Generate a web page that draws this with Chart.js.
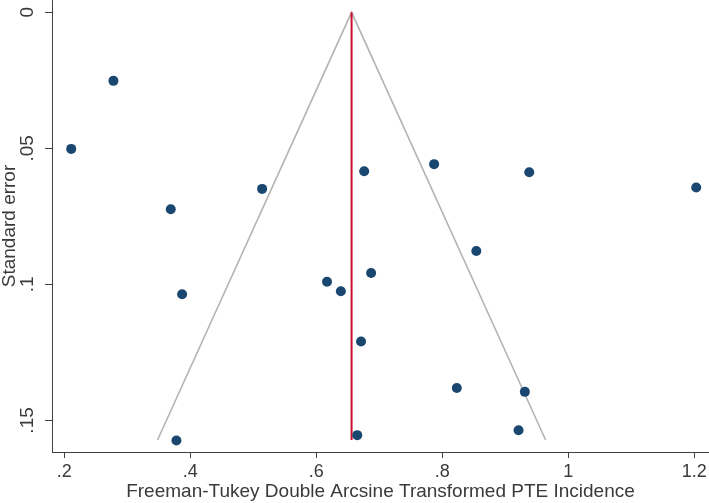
<!DOCTYPE html>
<html>
<head>
<meta charset="utf-8">
<script src="https://cdn.jsdelivr.net/npm/chart.js@4/dist/chart.umd.min.js"></script>
<style>
  html, body { margin: 0; padding: 0; background: #fff; }
  #wrap { width: 709px; height: 503px; }
</style>
</head>
<body>
<div id="wrap"><canvas id="c" width="709" height="503"></canvas></div>
<script>
// Study estimates (Freeman-Tukey transformed incidence) and standard errors
const effectValues = [0.278, 0.211, 0.369, 0.514, 0.676, 0.787, 0.938, 1.203, 0.854, 0.687, 0.617, 0.639, 0.387, 0.671, 0.823, 0.931, 0.921, 0.665, 0.378];
const seValues     = [0.0252, 0.0502, 0.0724, 0.0649, 0.0584, 0.0558, 0.0588, 0.0644, 0.0877, 0.0958, 0.0990, 0.1025, 0.1036, 0.1210, 0.1381, 0.1395, 0.1536, 0.1554, 0.1574];

// Pseudo 95% confidence funnel and pooled estimate line
const funnelX = [0.348, 0.656, 0.964];
const funnelY = [0.1572, 0, 0.1572];
const pooledX = [0.656, 0.656];
const pooledY = [0, 0.1572];

// Axis ticks
const xTickValues = [0.2, 0.4, 0.6, 0.8, 1.0, 1.2];
const xTickLabels = ['.2', '.4', '.6', '.8', '1', '1.2'];
const yTickValues = [0, 0.05, 0.1, 0.15];
const yTickLabels = ['0', '.05', '.1', '.15'];

const FONT = "'Liberation Sans', Arial, Helvetica, sans-serif";
const TEXT = '#3a3a3a';
const AXIS = '#404040';

const pts = effectValues.map((x, i) => ({ x: x, y: seValues[i] }));
const funnel = funnelX.map((x, i) => ({ x: x, y: funnelY[i] }));
const pooled = pooledX.map((x, i) => ({ x: x, y: pooledY[i] }));

new Chart(document.getElementById('c'), {
  type: 'scatter',
  data: {
    datasets: [
      {
        label: 'Studies',
        data: pts,
        backgroundColor: '#1a476f',
        borderColor: '#1a476f',
        borderWidth: 0,
        pointRadius: 5,
        pointHoverRadius: 5
      },
      {
        label: 'Pooled',
        type: 'line',
        data: pooled,
        borderColor: '#c8102e',
        borderWidth: 2,
        pointRadius: 0,
        fill: false,
        tension: 0
      },
      {
        label: 'Funnel',
        type: 'line',
        data: funnel,
        borderColor: '#b4b4b4',
        borderWidth: 1.6,
        pointRadius: 0,
        fill: false,
        tension: 0
      }
    ]
  },
  options: {
    responsive: false,
    animation: false,
    layout: { padding: 0, autoPadding: false },
    plugins: { legend: { display: false }, tooltip: { enabled: false } },
    scales: {
      x: {
        type: 'linear',
        min: 0.1805,
        max: 1.2233,
        afterBuildTicks: (s) => { s.ticks = xTickValues.map(v => ({ value: v })); },
        afterFit: (s) => { s.height = 51; s.paddingLeft = 0; s.paddingRight = 0; },
        ticks: {
          autoSkip: false,
          maxRotation: 0,
          padding: 3,
          color: TEXT,
          font: { family: FONT, size: 18 },
          callback: (v) => { const i = xTickValues.findIndex(t => Math.abs(t - v) < 1e-9); return i >= 0 ? xTickLabels[i] : ''; }
        },
        grid: { display: true, drawOnChartArea: false, drawTicks: true, tickLength: 6, color: AXIS, lineWidth: 1 },
        border: { display: true, color: AXIS, width: 1 },
        title: {
          display: true,
          text: 'Freeman-Tukey Double Arcsine Transformed PTE Incidence',
          color: TEXT,
          font: { family: FONT, size: 19, lineHeight: 1.2 },
          padding: { top: 0, bottom: 0 }
        }
      },
      y: {
        type: 'linear',
        reverse: true,
        min: -0.00452,
        max: 0.1616,
        afterBuildTicks: (s) => { s.ticks = yTickValues.map(v => ({ value: v })); },
        afterFit: (s) => { s.width = 52; s.paddingTop = 0; s.paddingBottom = 0; },
        ticks: {
          autoSkip: false,
          minRotation: 90,
          maxRotation: 90,
          crossAlign: 'center',
          padding: 4,
          color: TEXT,
          font: { family: FONT, size: 19 },
          callback: (v) => { const i = yTickValues.findIndex(t => Math.abs(t - v) < 1e-9); return i >= 0 ? yTickLabels[i] : ''; }
        },
        grid: { display: true, drawOnChartArea: false, drawTicks: true, tickLength: 7, color: AXIS, lineWidth: 1 },
        border: { display: true, color: AXIS, width: 1 },
        title: {
          display: true,
          text: 'Standard error',
          color: TEXT,
          font: { family: FONT, size: 19, lineHeight: 1.0 },
          padding: { top: 0, bottom: 0 }
        }
      }
    }
  }
});
</script>
</body>
</html>
